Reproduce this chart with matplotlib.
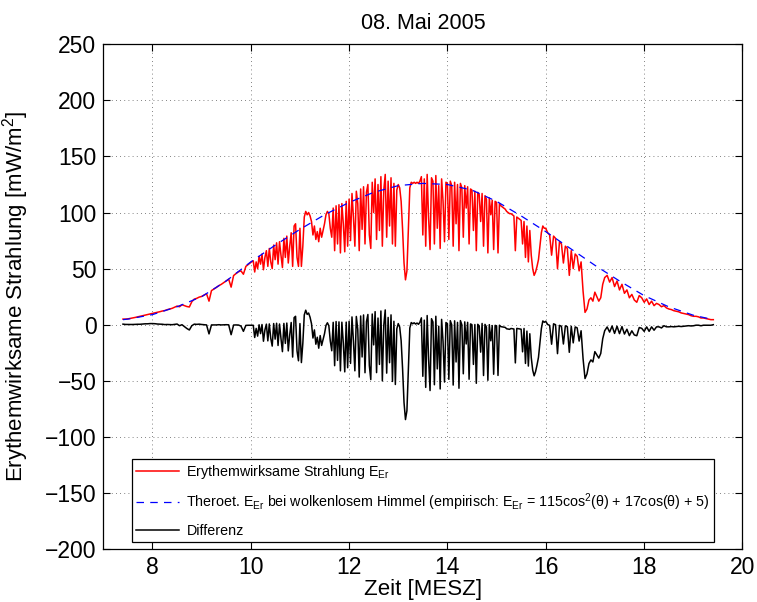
import numpy as np
import matplotlib.pyplot as plt

plt.rcParams['font.family'] = ['Liberation Sans Narrow', 'Liberation Sans', 'DejaVu Sans']
plt.rcParams['mathtext.default'] = 'regular'

# clear-sky (theoretical) curve
t_clear = [7.4, 7.5, 8.0, 8.5, 9.0, 9.5, 10.0, 10.5, 11.0, 11.5, 12.0, 12.5, 13.0,
           13.5, 14.0, 14.5, 15.0, 15.5, 16.0, 16.5, 17.0, 17.5, 18.0, 18.5, 19.0, 19.41]
e_clear = [4.5, 5, 9, 16, 25, 39, 56, 71, 85, 98, 109, 118, 124,
           126, 125, 120, 110, 97, 83, 68, 53, 39, 26, 16, 8.5, 4.5]

# measured erythemal irradiance, piecewise sample blocks (start, end, values)
red_0740 = [5.0, 5.0, 5.2, 5.6, 6.0, 6.5, 7.0, 7.4, 8.0, 8.6, 9.0, 9.6, 10.0, 10.6,
            11.0, 11.6, 12.2, 12.6, 13.4, 14.0, 14.6, 15.6, 16.6, 16.0, 17.8, 17.0,
            16.2, 15.8, 20.5, 22.8, 23.5, 24.6, 25.2, 26.4, 27.6, 21.0, 30.4, 31.8,
            33.2, 34.8, 36.0, 37.5, 39.0, 40.6, 33.5, 43.8, 45.6, 47.2, 48.0, 45.0,
            52.0, 53.8, 55.5]
red_1005 = [57, 47, 56, 50, 61, 54, 63, 49, 60, 66, 52, 68, 56, 50, 71, 58, 73, 54,
            74, 62, 51, 77, 60, 79, 55, 70, 82, 52, 88, 90, 60, 52]
red_1100 = [86, 52, 70, 96, 101, 98, 100, 97, 92, 80, 88, 76, 83, 74, 86, 78, 84, 90,
            98, 101, 99, 86, 78, 104, 66, 106, 72, 107, 64, 108, 90, 65, 110, 70]
red_1200 = [112, 75, 117, 96, 70, 119, 108, 66, 121, 85, 123, 72, 118, 125, 80, 68,
            127, 100, 130, 76, 125, 84, 132, 70, 120, 134, 78, 128, 88, 131, 72, 126,
            70, 120]
red_1300 = [125, 122, 110, 85, 55, 40, 48, 85, 122, 127, 126, 127, 126, 127, 126, 128,
            132, 80, 130, 70, 134, 95, 67, 131, 128, 72, 133, 86, 124, 68, 130, 110,
            74, 127]
red_1400 = [126, 76, 128, 124, 70, 127, 90, 125, 66, 126, 122, 78, 124, 104, 123, 72,
            121, 120, 84, 119, 66, 118, 116, 92, 117, 70, 115, 112, 64, 113, 98, 111,
            67, 110]
red_1500 = [109, 64, 108, 106, 105, 104, 103, 101, 100, 99, 99, 98, 97, 66, 96, 95,
            94, 93, 72, 92, 60, 88, 56, 84, 62, 50, 44, 47, 52, 58, 70, 82, 88, 86]
red_1600 = [86, 82, 80, 62, 79, 77, 50, 74, 72, 55, 70, 68, 44, 66, 50, 63, 61, 48,
            56, 30, 11, 14, 22, 24, 21, 29, 25, 21, 24, 36]
red_1720 = [42, 44, 38, 42, 34, 39, 31, 36, 28, 31, 24, 27, 22, 20, 26, 24, 20, 23,
            18, 21, 17, 19, 18, 16, 17, 15, 14, 13.5, 12.5, 12, 11.5, 10.5, 10, 9.5,
            9, 8, 7.5, 7.5, 7, 6, 6, 5.5, 5, 4.5, 4.5]

blocks = [(7.40, 10.05, red_0740), (10.05, 11.00, red_1005), (11.00, 12.00, red_1100),
          (12.00, 13.00, red_1200), (13.00, 14.00, red_1300), (14.00, 15.00, red_1400),
          (15.00, 16.00, red_1500), (16.00, 17.20, red_1600), (17.20, 19.41, red_1720)]

t_meas = []
e_meas = []
for i, (t0, t1, vals) in enumerate(blocks):
    last = i == len(blocks) - 1
    t_meas.append(np.linspace(t0, t1, len(vals), endpoint=last))
    e_meas.append(np.array(vals, dtype=float))
t_meas = np.concatenate(t_meas)
e_meas = np.concatenate(e_meas)

# difference measured - clear sky
diff = e_meas - np.interp(t_meas, t_clear, e_clear)

fig = plt.figure(figsize=(7.57, 6.02), dpi=100)
ax = fig.add_axes([0.1365, 0.088, 0.8441, 0.8384])

ax.plot(t_meas, e_meas, color='#ff0000', lw=1.1,
        label='Erythemwirksame Strahlung E$_{Er}$')
ax.plot(t_clear, e_clear, color='#0000ff', lw=0.9, ls=(0, (6, 5)),
        label='Theroet. E$_{Er}$ bei wolkenlosem Himmel (empirisch: E$_{Er}$ = 115cos$^{2}$(θ) + 17cos(θ) + 5)')
ax.plot(t_meas, diff, color='k', lw=1.1, label='Differenz')

ax.set_xlim(7, 20)
ax.set_ylim(-200, 250)
ax.set_xticks(np.arange(8, 21, 2))
ax.set_yticks(np.arange(-200, 251, 50))
ax.tick_params(direction='in', length=5, width=0.8, top=True, right=True,
               labelsize=16.5, pad=5)
ax.grid(True, color='0.35', lw=0.6, ls=(0, (1, 4)))
for s in ax.spines.values():
    s.set_linewidth(0.9)

ax.set_title('08. Mai 2005', fontsize=15.5, pad=11)
ax.set_xlabel('Zeit [MESZ]', fontsize=16, labelpad=0)
ax.set_ylabel('Erythemwirksame Strahlung [mW/m$^{2}$]', fontsize=16, labelpad=10)

leg = ax.legend(loc='lower left', bbox_to_anchor=(0.045, 0.013, 0.91, 0.148),
                mode='expand', fontsize=10.3, handlelength=3.0, handletextpad=0.5,
                borderpad=0.3, labelspacing=0.75, fancybox=False, framealpha=1,
                edgecolor='k', borderaxespad=0)
leg.get_frame().set_linewidth(0.9)

fig.savefig('out.png', dpi=100)
